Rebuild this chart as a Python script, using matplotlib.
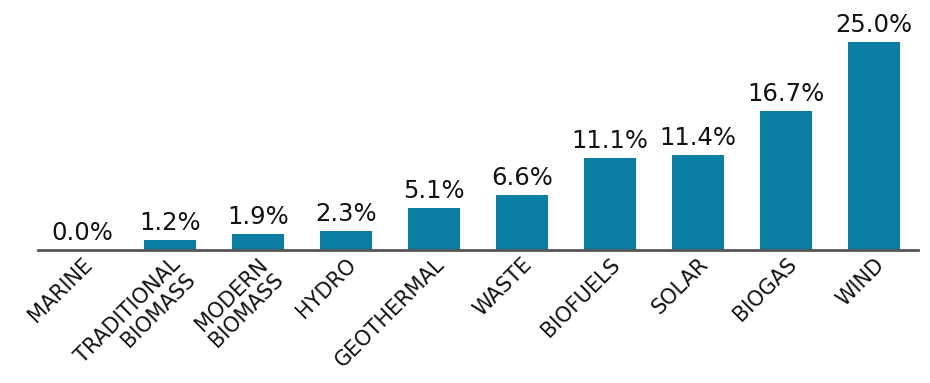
import matplotlib
matplotlib.use("Agg")
import matplotlib.pyplot as plt
import numpy as np

# share of each renewable source
sources = ["MARINE", "TRADITIONAL\nBIOMASS", "MODERN\nBIOMASS", "HYDRO",
           "GEOTHERMAL", "WASTE", "BIOFUELS", "SOLAR", "BIOGAS", "WIND"]
shares = [0.0, 1.2, 1.9, 2.3, 5.1, 6.6, 11.1, 11.4, 16.7, 25.0]

bar_color = "#0b7ea3"
plt.rcParams['font.family'] = ['DejaVu Sans']

fig = plt.figure(figsize=(9.3, 3.83), dpi=100)
ax = fig.add_axes([0.041, 0.347, 0.946, 0.627])

x = np.arange(len(sources))
bars = ax.bar(x, shares, width=0.6, color=bar_color)

#value labels above bars
for xi, v in zip(x, shares):
    ax.text(xi, v + 0.6, "%.1f%%" % v, ha="center", va="bottom",
            fontsize=17.5, color="#111111")

ax.set_xlim(-0.5, 9.5)
ax.set_ylim(0, 28.85)
ax.set_xticks(x)
ax.set_xticklabels(sources, rotation=45, ha="right", va="top",
                   rotation_mode="anchor", fontsize=15,
                   color="#111111", linespacing=1.05, multialignment="right")
ax.tick_params(axis="x", length=0, pad=3)
ax.set_yticks([])
for s in ["top", "right", "left"]:
    ax.spines[s].set_visible(False)
ax.spines["bottom"].set_color("#555555")
ax.spines["bottom"].set_linewidth(2)

plt.savefig("out.png", dpi=100)
